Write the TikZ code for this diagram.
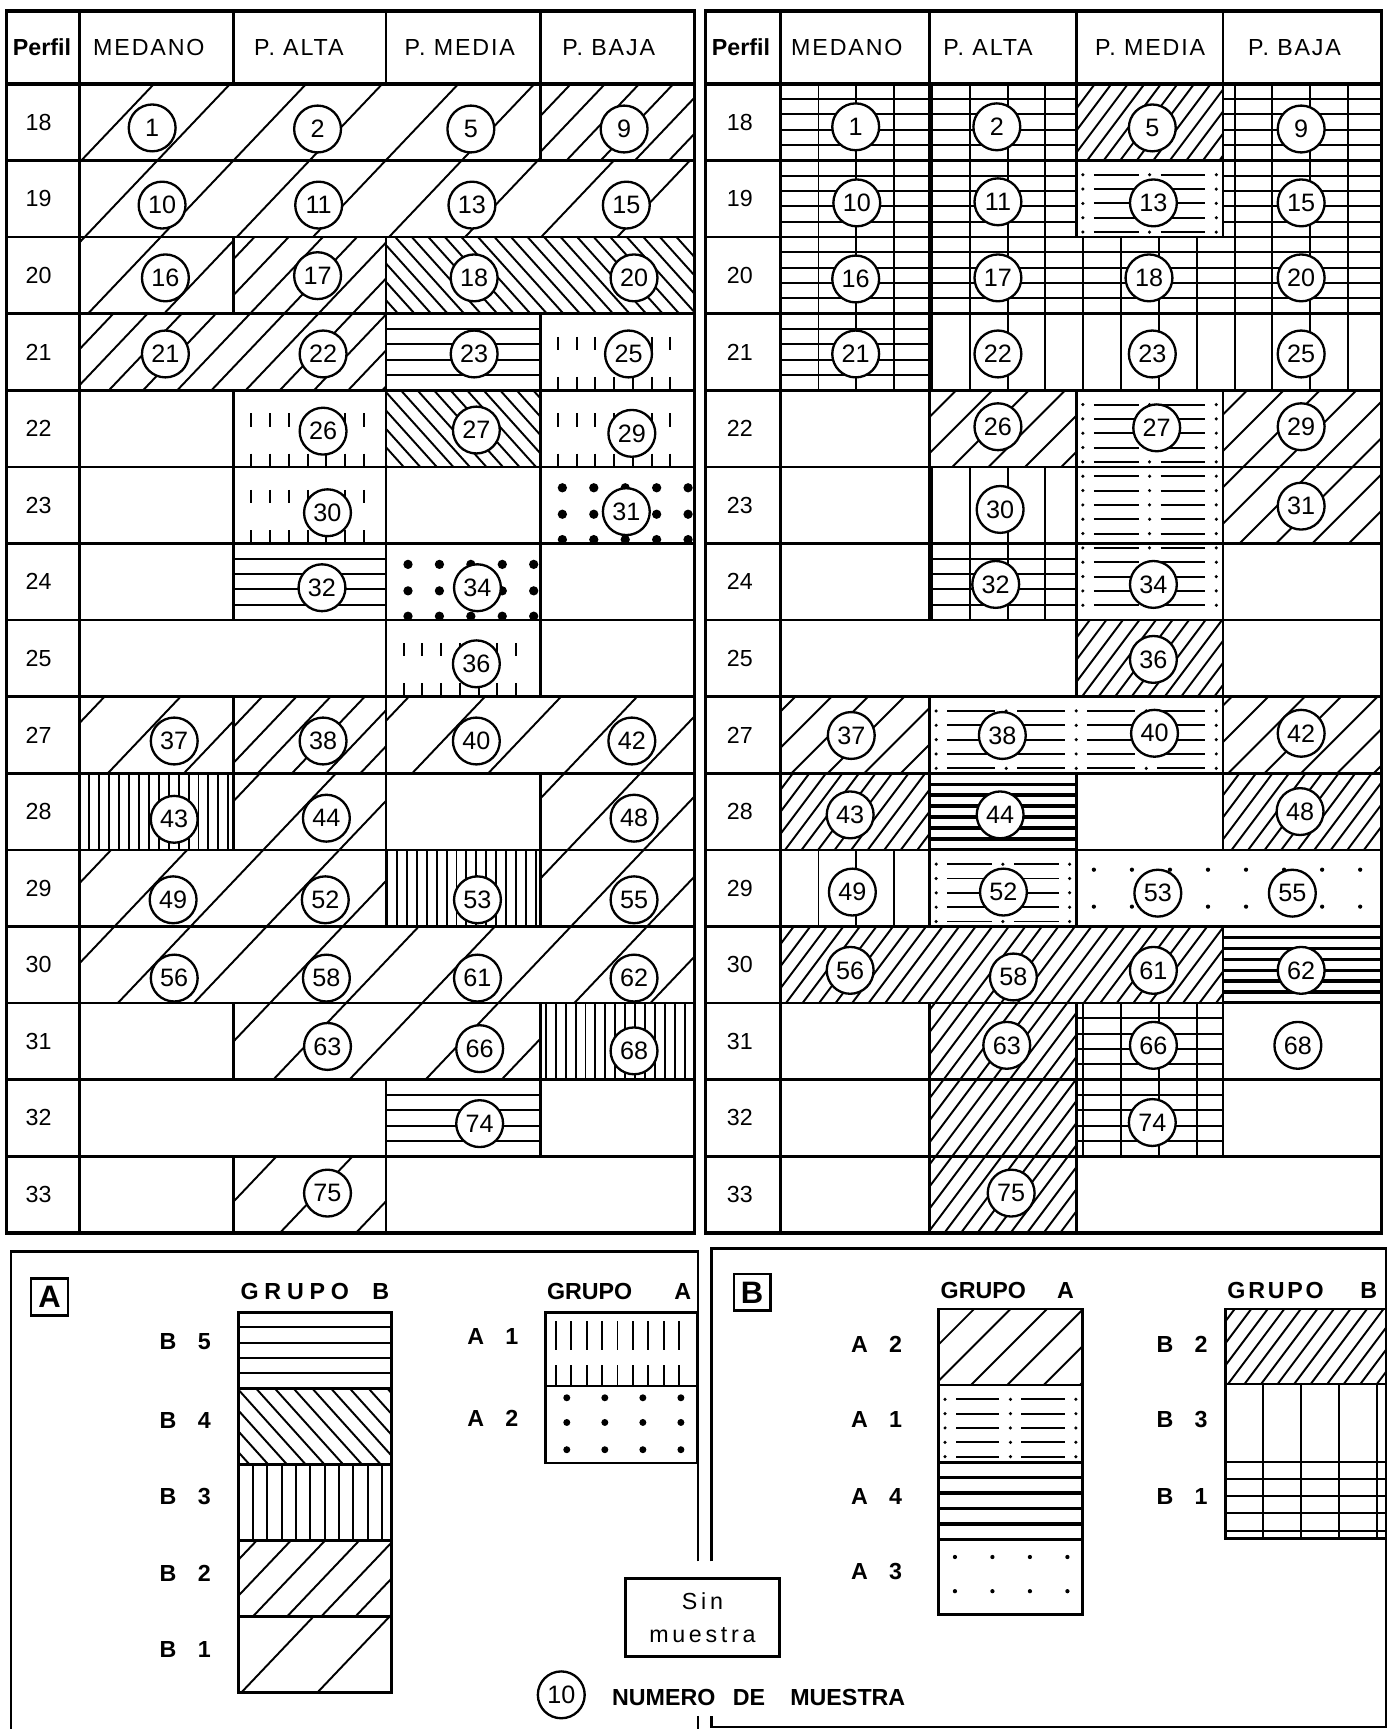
\documentclass[tikz,border=0pt]{standalone}
\usepackage{fontspec}
\setmainfont{Liberation Sans}
\newfontfamily\hdfont{Liberation Sans}[LetterSpace=8]
\newfontfamily\smfont{Liberation Sans}[LetterSpace=16]

% row boundaries of both tables
\pgfmathdeclarefunction{ry}{1}{\pgfmathparse{76+69.47*#1}}

% "/" hatching: x1,y1,x2,y2,spacing,slant,offset
\newcommand\pNE[7]{%
  \pgfmathsetmacro\pxa{#1}\pgfmathsetmacro\pya{#2}%
  \pgfmathsetmacro\pxb{#3}\pgfmathsetmacro\pyb{#4}%
  \pgfmathtruncatemacro\pka{floor((\pxa+#6*\pya-#7)/#5)}%
  \pgfmathtruncatemacro\pkb{ceil((\pxb+#6*\pyb-#7)/#5)}%
  \begin{scope}
    \clip (\pxa,\pya) rectangle (\pxb,\pyb);
    \foreach \k in {\pka,...,\pkb}
      \draw[hatch] ({\k*#5+#7-#6*\pya},\pya) -- ({\k*#5+#7-#6*\pyb},\pyb);
  \end{scope}}
% "\" hatching: x1,y1,x2,y2,spacing,slant,offset
\newcommand\pNW[7]{%
  \pgfmathsetmacro\pxa{#1}\pgfmathsetmacro\pya{#2}%
  \pgfmathsetmacro\pxb{#3}\pgfmathsetmacro\pyb{#4}%
  \pgfmathtruncatemacro\pka{floor((\pxa-#6*\pyb-#7)/#5)}%
  \pgfmathtruncatemacro\pkb{ceil((\pxb-#6*\pya-#7)/#5)}%
  \begin{scope}
    \clip (\pxa,\pya) rectangle (\pxb,\pyb);
    \foreach \k in {\pka,...,\pkb}
      \draw[hatch] ({\k*#5+#7+#6*\pya},\pya) -- ({\k*#5+#7+#6*\pyb},\pyb);
  \end{scope}}
% vertical lines: x1,y1,x2,y2,x0,spacing
\newcommand\pV[6]{%
  \pgfmathsetmacro\pxa{#1}\pgfmathsetmacro\pya{#2}%
  \pgfmathsetmacro\pxb{#3}\pgfmathsetmacro\pyb{#4}%
  \pgfmathtruncatemacro\pka{floor((\pxa-#5)/#6)}%
  \pgfmathtruncatemacro\pkb{ceil((\pxb-#5)/#6)}%
  \begin{scope}
    \clip (\pxa,\pya) rectangle (\pxb,\pyb);
    \foreach \k in {\pka,...,\pkb}
      \draw[hatch] ({#5+\k*#6},\pya) -- ({#5+\k*#6},\pyb);
  \end{scope}}
% horizontal lines: x1,y1,x2,y2,y0,spacing,style
\newcommand\pH[7]{%
  \pgfmathsetmacro\pxa{#1}\pgfmathsetmacro\pya{#2}%
  \pgfmathsetmacro\pxb{#3}\pgfmathsetmacro\pyb{#4}%
  \pgfmathtruncatemacro\pka{floor((\pya-#5)/#6)}%
  \pgfmathtruncatemacro\pkb{ceil((\pyb-#5)/#6)}%
  \begin{scope}
    \clip (\pxa,\pya) rectangle (\pxb,\pyb);
    \foreach \k in {\pka,...,\pkb}
      \draw[#7] (\pxa,{#5+\k*#6}) -- (\pxb,{#5+\k*#6});
  \end{scope}}
% ticks: x1,y1,x2,y2,start,step,top from,top to,bottom length
\newcommand\pTick[9]{%
  \pgfmathsetmacro\pxa{#1}\pgfmathsetmacro\pya{#2}%
  \pgfmathsetmacro\pxb{#3}\pgfmathsetmacro\pyb{#4}%
  \pgfmathtruncatemacro\pn{floor((\pxb-\pxa-2*#5)/#6)}%
  \foreach \k in {0,...,\pn}{
    \pgfmathsetmacro\px{\pxa+#5+\k*#6}
    \draw[hatch] (\px,{\pya+#7}) -- (\px,{\pya+#8});
    \draw[hatch] (\px,{\pyb-#9}) -- (\px,\pyb);
  }}
% dots: x1,y1,x2,y2,start,step,y offsets,radius
\newcommand\pDots[8]{%
  \pgfmathsetmacro\pxa{#1}\pgfmathsetmacro\pya{#2}%
  \pgfmathsetmacro\pxb{#3}\pgfmathsetmacro\pyb{#4}%
  \pgfmathtruncatemacro\pn{floor((\pxb-\pxa-#5-3)/#6)}%
  \foreach \k in {0,...,\pn}
    \foreach \dy in {#7}
      \fill ({\pxa+#5+\k*#6},{\pya+\dy}) circle[radius=#8];}
% dashes with dotted columns: x1,y1,x2,y2,segments
\newcommand\pDash[5]{%
  \pgfmathsetmacro\pxa{#1}\pgfmathsetmacro\pya{#2}%
  \pgfmathsetmacro\pxb{#3}\pgfmathsetmacro\pyb{#4}%
  \pgfmathsetmacro\pw{(\pxb-\pxa-12)/#5}%
  \pgfmathtruncatemacro\pj{floor((\pyb-\pya-3)/13)}%
  \pgfmathtruncatemacro\pm{#5-1}%
  \foreach \j in {1,...,\pj}{
    \pgfmathsetmacro\py{\pya+13*\j}
    \foreach \k in {0,...,#5}
      \fill ({\pxa+6+\k*\pw},\py) circle[radius=0.9pt];
    \foreach \k in {0,...,\pm}
      \draw[hatch] ({\pxa+16+\k*\pw},\py) -- ({\pxa-4+(\k+1)*\pw},\py);
  }}

\begin{document}
\begin{tikzpicture}[
  x=0.02cm, y=-0.02cm,
  hatch/.style={line width=1pt},
  bar/.style={line width=1.7pt},
  rule/.style={line width=1.35pt},
  frame/.style={line width=1.8pt},
  cnode/.style={circle, draw, fill=white, line width=1.2pt, minimum size=0.85cm, inner sep=0pt, font=\fontsize{13}{13}\selectfont},
  hd/.style={font=\hdfont\fontsize{12}{12}\selectfont},
  hdb/.style={font=\bfseries\fontsize{12}{12}\selectfont},
  lab/.style={font=\fontsize{12}{12}\selectfont},
  lg/.style={inner sep=1pt, font=\bfseries\fontsize{12}{12}\selectfont}
]
  \useasboundingbox (0,0) rectangle (1263,1568);
  \fill[white] (0,0) rectangle (1263,1568);

  % ---- table A (left) ----
  \foreach \ua/\ra/\ub/\rb in {72/0/490/1, 72/1/630/2, 72/2/212/3, 72/8/212/9, 350/8/630/9,
      212/9/350/10, 490/9/630/10, 72/10/350/11, 490/10/630/11, 72/11/630/12,
      212/12/490/13, 212/14/350/15}
    {\pNE{\ua}{ry(\ra)}{\ub}{ry(\rb)}{69}{0.95}{5}}
  \foreach \ua/\ra/\ub/\rb in {490/0/630/1, 212/2/350/3, 72/3/350/4, 212/8/350/9}
    {\pNE{\ua}{ry(\ra)}{\ub}{ry(\rb)}{31}{0.95}{1}}
  \foreach \ua/\ra/\ub/\rb in {350/2/630/3, 350/4/490/5}
    {\pNW{\ua}{ry(\ra)}{\ub}{ry(\rb)}{15}{0.9}{0}}
  \foreach \ua/\ra/\ub/\rb in {350/3/490/4, 212/6/350/7, 350/13/490/14}
    {\pH{\ua}{ry(\ra)}{\ub}{ry(\rb)}{76}{13.894}{hatch}}
  \foreach \ua/\ra/\ub/\rb in {72/9/212/10, 350/10/490/11, 490/12/630/13}
    {\pV{\ua}{ry(\ra)}{\ub}{ry(\rb)}{0}{9}}
  \foreach \ua/\ra/\ub/\rb in {490/3/630/4, 212/4/350/5, 490/4/630/5, 212/5/350/6, 350/7/490/8}
    {\pTick{\ua}{ry(\ra)}{\ub}{ry(\rb)}{16}{17}{21}{33}{12}}
  \pDots{490}{ry(5)}{630}{ry(6)}{20}{28.5}{19,43,66}{2.4pt}
  \pDots{350}{ry(6)}{490}{ry(7)}{20}{28.5}{19,43,66}{2.4pt}

  % ---- table B (right) ----
  \foreach \ua/\ra/\ub/\rb in {708/0/976/3, 1109/0/1253/3, 976/2/1109/3, 708/3/843/4,
      843/6/976/7, 976/12/1109/14}
    {\pV{\ua}{ry(\ra)}{\ub}{ry(\rb)}{708}{34.3}
     \pH{\ua}{ry(\ra)}{\ub}{ry(\rb)}{76}{13.894}{hatch}}
  \foreach \ua/\ra/\ub/\rb in {843/3/1253/4, 843/5/976/6, 708/10/843/11}
    {\pV{\ua}{ry(\ra)}{\ub}{ry(\rb)}{708}{34.3}}
  \foreach \ua/\ra/\ub/\rb in {976/0/1109/1, 976/7/1109/8, 708/9/843/10, 1109/9/1253/10,
      708/11/1109/12, 843/12/976/15}
    {\pNE{\ua}{ry(\ra)}{\ub}{ry(\rb)}{15}{0.75}{0}}
  \foreach \ua/\ra/\ub/\rb in {843/4/976/5, 1109/4/1253/6, 708/8/843/9, 1109/8/1253/9}
    {\pNE{\ua}{ry(\ra)}{\ub}{ry(\rb)}{33}{1}{0}}
  \pDash{976}{ry(1)}{1109}{ry(2)}{2}
  \pDash{976}{ry(4)}{1109}{ry(7)}{2}
  \pDash{843}{ry(8)}{1109}{ry(9)}{4}
  \pDash{843}{ry(10)}{976}{ry(11)}{2}
  \foreach \ua/\ra/\ub/\rb in {843/9/976/10, 1109/11/1253/12}
    {\pH{\ua}{ry(\ra)}{\ub}{ry(\rb)}{76}{9.924}{bar}}
  \pDots{976}{ry(10)}{1253}{ry(11)}{16}{34.5}{18,51.5}{1.1pt}

  % ---- rules ----
  \foreach \k in {1,...,14}{
    \draw[rule] (6,{ry(\k)}) -- (630,{ry(\k)});
    \draw[rule] (640,{ry(\k)}) -- (1253,{ry(\k)});
  }
  \foreach \x/\a/\b in {212/2/3, 212/4/7, 212/8/10, 212/12/13, 212/14/15, 350/2/11, 350/13/15,
      490/0/1, 490/3/8, 490/9/11, 490/12/14,
      843/0/7, 843/8/11, 843/12/15, 976/0/2, 976/4/8, 976/9/11, 976/12/15,
      1109/0/2, 1109/4/10, 1109/11/14}
    \draw[rule] (\x,{ry(\a)}) -- (\x,{ry(\b)});
  \foreach \x in {212,350,490,843,976,1109}
    \draw[rule] (\x,10) -- (\x,76);
  \draw[frame] (6,76) -- (630,76);
  \draw[frame] (640,76) -- (1253,76);
  \draw[frame] (72,10) -- (72,1118);
  \draw[frame] (708,10) -- (708,1118);
  \draw[frame] (6,10) rectangle (630,1118);
  \draw[frame] (640,10) rectangle (1253,1118);

  % ---- headers ----
  \node[hdb] (lperf) at (38,43) {Perfil};
  \node[hdb] (rperf) at (672,43) {Perfil};
  \foreach \t/\x [count=\i] in {MEDANO/135, P. ALTA/271, P. MEDIA/417, P. BAJA/552}
    \node[hd] (lh\i) at (\x,43) {\t};
  \foreach \t/\x [count=\i] in {MEDANO/768, P. ALTA/896, P. MEDIA/1043, P. BAJA/1174}
    \node[hd] (rh\i) at (\x,43) {\t};
  \foreach \r [count=\i from 0] in {18,19,20,21,22,23,24,25,27,28,29,30,31,32,33}{
    \node[lab] (lp\r) at (35,{ry(\i+0.5)}) {\r};
    \node[lab] (rp\r) at (671,{ry(\i+0.5)}) {\r};
  }

  % ---- sample numbers ----
  \foreach \n/\x/\y in {1/138/116, 2/288/117, 5/427/117, 9/566/117,
      10/147/186, 11/289/186, 13/428/186, 15/568/186,
      16/150/252, 17/288/250, 18/430/252, 20/575/252,
      21/150/321, 22/293/321, 23/430/321, 25/570/321,
      26/293/391, 27/432/390, 29/573/393, 30/297/465, 31/568/464,
      32/292/533, 34/433/533, 36/432/602,
      37/158/672, 38/293/672, 40/432/672, 42/573/672,
      43/158/743, 44/296/742, 48/575/742,
      49/157/816, 52/295/816, 53/433/816, 55/575/816,
      56/158/887, 58/296/887, 61/433/887, 62/575/887,
      63/297/949, 66/435/951, 68/575/953, 74/435/1019, 75/297/1082}
    \node[cnode] (l\n) at (\x,\y) {\n};
  \foreach \n/\x/\y in {1/776/115, 2/904/115, 5/1045/116, 9/1180/117,
      10/777/184, 11/905/183, 13/1046/184, 15/1180/184,
      16/776/253, 17/905/252, 18/1042/252, 20/1180/252,
      21/776/321, 22/905/321, 23/1045/321, 25/1180/321,
      26/905/387, 27/1049/388, 29/1180/387, 30/907/462, 31/1180/459,
      32/903/530, 34/1046/530, 36/1046/598,
      37/772/667, 38/909/667, 40/1047/665, 42/1180/665,
      43/771/739, 44/907/739, 48/1179/736,
      49/773/809, 52/910/809, 53/1050/810, 55/1172/810,
      56/771/880, 58/919/886, 61/1046/880, 62/1180/880,
      63/913/948, 66/1046/948, 68/1177/948, 74/1045/1018, 75/917/1082}
    \node[cnode] (r\n) at (\x,\y) {\n};

  % ---- legend A ----
  \draw[rule] (633,1416) -- (633,1135) -- (10,1135) -- (10,1568);
  \draw[rule] (633,1556) -- (633,1568);
  \node[draw, rule, minimum size=0.67cm, inner sep=0pt, font=\bfseries\fontsize{16}{16}\selectfont] (bxa) at (45,1176) {A};
  \node[lg, anchor=west, font=\bfseries\addfontfeature{LetterSpace=25}\fontsize{12}{12}\selectfont] (gbl) at (216,1171) {GRUPO};
  \node[lg, anchor=east] (gblb) at (355,1171) {B};
  \node[lg, anchor=west] (gal) at (494,1171) {GRUPO};
  \node[lg, anchor=east] (gala) at (629,1171) {A};
  \pH{216.5}{1190}{355}{1259}{1190}{13.8}{hatch}
  \pNW{216.5}{1259}{355}{1328}{17}{0.9}{0}
  \pV{216.5}{1328}{355}{1397}{216.5}{13}
  \pNE{216.5}{1397}{355}{1466}{31}{0.95}{10}
  \pNE{216.5}{1466}{355}{1535}{69}{0.95}{21}
  \foreach \y in {1190,1259,1328,1397,1466}
    \draw[rule] (216.5,\y) rectangle (355,{\y+69});
  \foreach \t/\y in {5/1217, 4/1288, 3/1357, 2/1427, 1/1496}
    \node[lg] (lb\t) at (168,\y) {B\hspace{11pt}\t};
  \pTick{494.6}{1190}{632}{1257}{9.4}{14}{8.4}{34}{19}
  \pDots{494.6}{1257}{632}{1326.6}{19.4}{34.5}{10.6,33,57.7}{1.8pt}
  \draw[rule] (494.6,1190) rectangle (632,1257);
  \draw[rule] (494.6,1257) rectangle (632,1326.6);
  \node[lg] (la1) at (447,1212) {A\hspace{11pt}1};
  \node[lg] (la2) at (447,1286) {A\hspace{11pt}2};

  % ---- legend B ----
  \draw[rule] (645,1416) -- (645,1132) -- (1257,1132) -- (1257,1566) -- (645,1566) -- (645,1556);
  \node[draw, rule, minimum size=0.66cm, inner sep=0pt, font=\bfseries\fontsize{16}{16}\selectfont] (bxb) at (682,1172) {B};
  \node[lg, anchor=west] (gar) at (851,1170) {GRUPO};
  \node[lg, anchor=east] (gara) at (976,1170) {A};
  \node[lg, anchor=west, font=\bfseries\addfontfeature{LetterSpace=12}\fontsize{12}{12}\selectfont] (gbr) at (1111,1170) {GRUPO};
  \node[lg, anchor=east] (gbrb) at (1251,1170) {B};
  \pNE{851}{1187}{981.7}{1256}{33}{1}{24.5}
  \pDash{851}{1256}{981.7}{1326}{2}
  \pH{851}{1326}{981.7}{1396}{1326}{14}{bar}
  \pDots{851}{1396}{981.7}{1464}{15}{34}{16,47}{1.1pt}
  \foreach \y/\h in {1187/69, 1256/70, 1326/70, 1396/68}
    \draw[rule] (851,\y) rectangle (981.7,{\y+\h});
  \foreach \t/\y in {2/1219.5, 1/1287.5, 4/1357, 3/1425}
    \node[lg] (ra\t) at (795,\y) {A\hspace{11pt}\t};
  \pNE{1111.5}{1187}{1257}{1255}{15}{0.75}{0}
  \pV{1111.5}{1255}{1257}{1395}{1111.5}{34.3}
  \pH{1111.5}{1326}{1257}{1395}{1326}{15.5}{hatch}
  \foreach \y/\h in {1187/68, 1255/71, 1326/69}
    \draw[rule] (1111.5,\y) rectangle (1257,{\y+\h});
  \foreach \t/\y in {2/1219.5, 3/1287.5, 1/1357}
    \node[lg] (rb\t) at (1072,\y) {B\hspace{11pt}\t};

  % ---- common keys ----
  \node[draw, rule, fill=white, minimum width=2.8cm, minimum height=1.42cm, align=center,
        font=\smfont\fontsize{12}{17}\selectfont] (sinm) at (637,1467) {Sin\\muestra};
  \node[cnode] (n10) at (509,1537) {10};
  \node[lg, anchor=west] (numm) at (553,1539) {NUMERO\hspace{9pt}DE\hspace{13pt}MUESTRA};
\end{tikzpicture}
\end{document}
